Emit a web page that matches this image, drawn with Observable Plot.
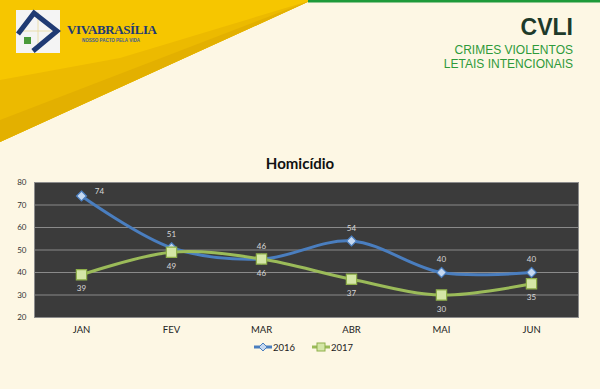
<!DOCTYPE html>
<html>
<head>
<meta charset="utf-8">
<script src="https://cdn.jsdelivr.net/npm/d3@7"></script>
<script src="https://cdn.jsdelivr.net/npm/@observablehq/plot@0.6"></script>
<style>
  html, body { margin: 0; padding: 0; }
  body { width: 600px; height: 389px; overflow: hidden; background: #fdf7e4; }
  #wrap { position: relative; width: 600px; height: 389px; background: #fdf7e4; }
  #deco { position: absolute; left: 0; top: 0; }
  #chart { position: absolute; left: 0; top: 0; }
  .abs { position: absolute; white-space: nowrap; }
  #brand { left: 67px; top: 22px; font-family: "Liberation Serif", "DejaVu Serif", serif; font-weight: bold; font-size: 13px; color: #1f3a73; letter-spacing: -0.4px; }
  #tag { left: 82px; top: 38px; font-family: "Liberation Sans", sans-serif; font-weight: bold; font-size: 4.5px; color: #3d5c96; }
  #cvli { right: 27px; top: 14px; font-family: "Liberation Sans", Arial, sans-serif; font-weight: bold; font-size: 23px; color: #1e3a2a; }
  .sub { right: 27px; font-family: "Liberation Sans", Arial, sans-serif; font-size: 12px; color: #2e9a3a; text-align: right; }
  #sub1 { top: 43px; }
  #sub2 { top: 57px; }
  #title { left: 0; width: 600px; top: 154px; text-align: center; font-family: Lato, "Open Sans", sans-serif; font-weight: bold; font-size: 15px; color: #111; }
  #legend { left: 253px; top: 341px; font-family: Lato, "Open Sans", sans-serif; font-size: 9.5px; color: #222; display: flex; align-items: center; gap: 0; }
  #legend .item { display: flex; align-items: center; margin-right: 16px; }
  #legend svg { display: block; }
</style>
</head>
<body>
<div id="wrap">
  <svg id="deco" width="600" height="389">
    <polygon points="0,0 312,0 0,142" fill="#f6c600"/>
    <polygon points="0,80 120,58 312,0 0,142" fill="#ecba00"/>
    <polygon points="0,120 312,0 0,142" fill="#e3b000"/>
    <rect x="308" y="0" width="292" height="2.5" fill="#1e9a3a"/>
    <rect x="16" y="10" width="44" height="43" fill="#f4f4f4"/>
    <line x1="38" y1="12" x2="38" y2="50" stroke="#e8d9a0" stroke-width="0.8"/>
    <line x1="18" y1="31" x2="58" y2="31" stroke="#e8d9a0" stroke-width="0.8"/>
    <polyline points="18,34 34,13 57,31 33,51" fill="none" stroke="#1f3a73" stroke-width="5" stroke-linejoin="miter"/>
    <rect x="24" y="37" width="7" height="7" fill="#4a9a3a"/>
  </svg>
  <div id="chart"></div>
  <div class="abs" id="brand">VIVABRASÍLIA</div>
  <div class="abs" id="tag">NOSSO PACTO PELA VIDA</div>
  <div class="abs" id="cvli">CVLI</div>
  <div class="abs sub" id="sub1">CRIMES VIOLENTOS</div>
  <div class="abs sub" id="sub2">LETAIS INTENCIONAIS</div>
  <div class="abs" id="title">Homicídio</div>
  <div class="abs" id="legend"></div>
</div>
<script>
const months = ["JAN", "FEV", "MAR", "ABR", "MAI", "JUN"];
const values2016 = [74, 51, 46, 54, 40, 40];
const values2017 = [39, 49, 46, 37, 30, 35];
const seriesNames = ["2016", "2017"];
const yTicks = [20, 30, 40, 50, 60, 70, 80];
const gridValues = [30, 40, 50, 60, 70];

const blue = "#4a7ebf", green = "#9bbb59";

const d2016 = months.map((m, i) => ({month: m, value: values2016[i], i}));
const d2017 = months.map((m, i) => ({month: m, value: values2017[i], i}));

const chart = Plot.plot({
  width: 600,
  height: 389,
  marginTop: 182,
  marginBottom: 72,
  marginLeft: 34,
  marginRight: 22,
  style: {background: "transparent", fontFamily: "Lato, 'Open Sans', sans-serif"},
  x: {type: "point", domain: months, padding: 0.5, label: null},
  y: {domain: [20, 80], label: null},
  marks: [
    Plot.frame({fill: "#3b3b3b", stroke: "#8c8c8c", strokeWidth: 1}),
    Plot.ruleY(gridValues, {stroke: "#8a8a8a", strokeWidth: 1}),
    Plot.axisY({ticks: yTicks, tickSize: 0, tickPadding: 8, fontSize: 8, fill: "#333", label: null}),
    Plot.axisX({tickSize: 0, tickPadding: 9, fontSize: 9.5, fill: "#222", label: null}),
    Plot.line(d2016, {x: "month", y: "value", stroke: blue, strokeWidth: 3, curve: "catmull-rom"}),
    Plot.line(d2017, {x: "month", y: "value", stroke: green, strokeWidth: 3, curve: "catmull-rom"}),
    Plot.dot(d2016, {x: "month", y: "value", symbol: "diamond2", r: 4.5, fill: "#c5d8f0", stroke: blue, strokeWidth: 1.2}),
    Plot.dot(d2017, {x: "month", y: "value", symbol: "square", r: 5.8, fill: "#d4e6a6", stroke: "#8fb04a", strokeWidth: 1.2}),
    Plot.text(d2016.filter(d => d.i === 0), {x: "month", y: "value", text: "value", dx: 18, dy: -5, fontSize: 8, fill: "#d8d8d8"}),
    Plot.text(d2016.filter(d => d.i > 0), {x: "month", y: "value", text: "value", dy: -13, fontSize: 8, fill: "#d8d8d8"}),
    Plot.text(d2017, {x: "month", y: "value", text: "value", dy: 14, fontSize: 8, fill: "#d8d8d8"})
  ]
});
document.getElementById("chart").appendChild(chart);

// legend
const legend = d3.select("#legend");
seriesNames.forEach((name, k) => {
  const item = legend.append("div").attr("class", "item");
  const svg = item.append("svg").attr("width", 20).attr("height", 12);
  const col = k === 0 ? blue : green;
  svg.append("line").attr("x1", 1).attr("x2", 19).attr("y1", 6).attr("y2", 6).attr("stroke", col).attr("stroke-width", 3);
  if (k === 0) {
    svg.append("path").attr("d", "M10,2 L14,6 L10,10 L6,6 Z").attr("fill", "#c5d8f0").attr("stroke", blue).attr("stroke-width", 1);
  } else {
    svg.append("rect").attr("x", 6).attr("y", 2).attr("width", 8).attr("height", 8).attr("fill", "#d4e6a6").attr("stroke", "#8fb04a").attr("stroke-width", 1);
  }
  item.append("span").text(name);
});
</script>
</body>
</html>
